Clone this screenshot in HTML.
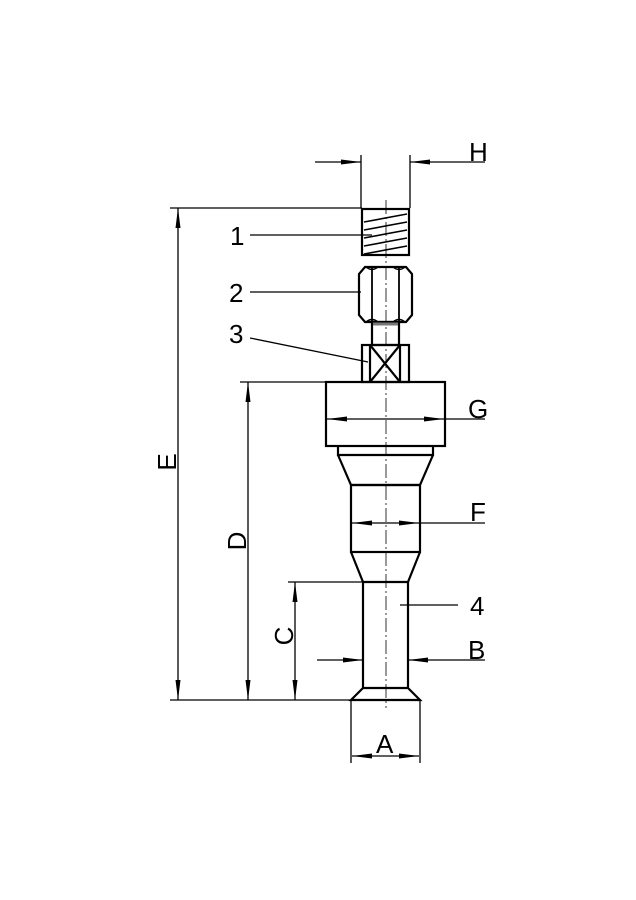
<!DOCTYPE html>
<html><head><style>body{margin:0;background:#fff}svg{display:block}text{font-family:"Liberation Sans",sans-serif;font-size:26px;fill:#000}</style></head><body>
<svg width="636" height="900" viewBox="0 0 636 900" xmlns="http://www.w3.org/2000/svg">
<defs>
<marker id="a" viewBox="0 0 20 6" refX="20" refY="3" markerWidth="20" markerHeight="6" markerUnits="userSpaceOnUse" orient="auto-start-reverse" preserveAspectRatio="none"><path d="M0,0.5L20,3L0,5.5z"/></marker>
</defs>
<g stroke="#000" fill="none" stroke-width="1.3">
<line x1="386" y1="200" x2="386" y2="708" stroke-dasharray="14,3,2,3" stroke-width="0.8"/>
<line x1="361" y1="155" x2="361" y2="208"/><line x1="410" y1="155" x2="410" y2="208"/>
<line x1="315" y1="162" x2="361" y2="162" marker-end="url(#a)"/>
<line x1="485" y1="162" x2="410" y2="162" marker-end="url(#a)"/>
<line x1="170" y1="208" x2="362" y2="208"/>
<line x1="240" y1="382" x2="326" y2="382"/>
<line x1="288" y1="582" x2="363" y2="582"/>
<line x1="170" y1="700" x2="351" y2="700"/>
<line x1="178" y1="208" x2="178" y2="700" marker-start="url(#a)" marker-end="url(#a)"/>
<line x1="248" y1="382" x2="248" y2="700" marker-start="url(#a)" marker-end="url(#a)"/>
<line x1="295" y1="582" x2="295" y2="700" marker-start="url(#a)" marker-end="url(#a)"/>
</g>
<g stroke="#000" fill="none" stroke-width="2.2">
<rect x="362" y="209" width="47" height="46"/>
<path d="M364,222L407,214M364,230L407,222M364,238L407,230M364,246L407,238M364,254L407,246" stroke-width="1.6"/>
<path d="M365,267H406L412,274V315L406,322H365L359,315V274Z"/>
<path d="M372,268V321M399,268V321" stroke-width="1.8"/>
<path d="M366,267Q372,272 378,267M393,267Q399,272 405,267M366,322Q372,317 378,322M393,322Q399,317 405,322" stroke-width="1.4"/>
<rect x="372" y="322" width="27" height="23"/>
<line x1="373" y1="324" x2="398" y2="324" stroke="#777" stroke-width="3"/>
<rect x="362" y="345" width="47" height="37"/>
<line x1="370" y1="345" x2="370" y2="382"/><line x1="400" y1="345" x2="400" y2="382"/>
<path d="M370,345L400,382M400,345L370,382"/>
<rect x="326" y="382" width="119" height="64"/>
<path d="M338,446V455H433V446M338,455L351,485H420L433,455"/>
<rect x="351" y="485" width="69" height="67"/>
<path d="M351,552L363,582H408L420,552"/>
<path d="M363,582V688H408V582M363,688L351,700H420L408,688"/>
</g>
<g stroke="#000" fill="none" stroke-width="1.3">
<line x1="386" y1="419" x2="327" y2="419" marker-end="url(#a)"/>
<line x1="386" y1="419" x2="444" y2="419" marker-end="url(#a)"/>
<line x1="444" y1="419" x2="485" y2="419"/>
<line x1="386" y1="523" x2="352" y2="523" marker-end="url(#a)"/>
<line x1="386" y1="523" x2="419" y2="523" marker-end="url(#a)"/>
<line x1="419" y1="523" x2="485" y2="523"/>
<line x1="317" y1="660" x2="363" y2="660" marker-end="url(#a)"/>
<line x1="485" y1="660" x2="408" y2="660" marker-end="url(#a)"/>
<line x1="400" y1="605" x2="458" y2="605"/>
<line x1="351" y1="700" x2="351" y2="763"/><line x1="420" y1="700" x2="420" y2="763"/>
<line x1="386" y1="756" x2="352" y2="756" marker-end="url(#a)"/>
<line x1="386" y1="756" x2="419" y2="756" marker-end="url(#a)"/>
<line x1="250" y1="235" x2="372" y2="235"/>
<line x1="250" y1="292" x2="361" y2="292"/>
<line x1="250" y1="338" x2="368" y2="362"/>
</g>
<text x="469" y="161">H</text>
<text x="468" y="418">G</text>
<text x="470" y="521">F</text>
<text x="470" y="615">4</text>
<text x="468" y="659">B</text>
<text x="376" y="753">A</text>
<text x="230" y="245">1</text>
<text x="229" y="302">2</text>
<text x="229" y="343">3</text>
<text transform="translate(176,462) rotate(-90)" text-anchor="middle">E</text>
<text transform="translate(246,541) rotate(-90)" text-anchor="middle">D</text>
<text transform="translate(293,636) rotate(-90)" text-anchor="middle">C</text>
</svg>
</body></html>
